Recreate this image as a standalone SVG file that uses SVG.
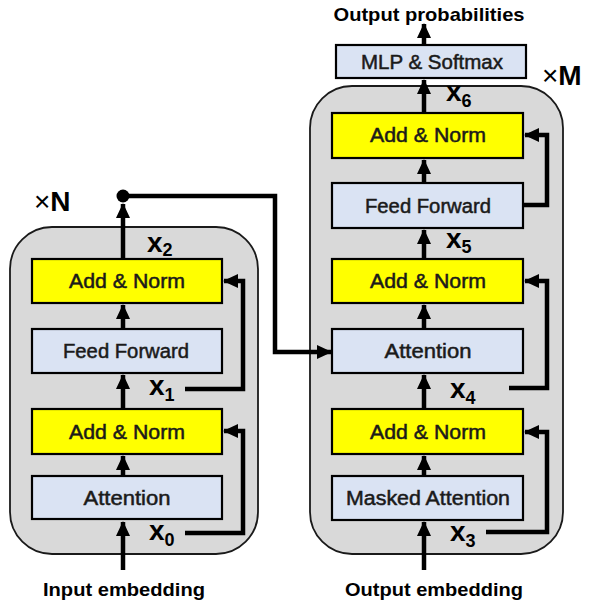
<svg xmlns="http://www.w3.org/2000/svg" width="597" height="609" viewBox="0 0 597 609">
<defs>
<style>
.cont{fill:#d9d9d9;stroke:#1a1a1a;stroke-width:1.8}
.an{fill:#ffff00;stroke:#000;stroke-width:2.2}
.bl{fill:#dae3f3;stroke:#000;stroke-width:2.2}
.t{font-family:"Liberation Sans",Arial,sans-serif;font-size:20px;fill:#1a1a1a;stroke:#1a1a1a;stroke-width:0.5;text-anchor:middle}
.lb{font-family:"Liberation Sans",Arial,sans-serif;font-size:19px;font-weight:bold;fill:#000;text-anchor:middle}
.x{font-family:"Liberation Sans",Arial,sans-serif;font-size:28px;font-weight:bold;fill:#000}
.s{font-size:18px}
.m{font-family:"Liberation Sans",Arial,sans-serif;font-size:28px;fill:#000}
.c{fill:none;stroke:#000;stroke-width:4.5}
</style>
<marker id="ah" markerUnits="userSpaceOnUse" markerWidth="16" markerHeight="16" viewBox="0 0 16 16" refX="14" refY="8" orient="auto">
<path d="M0,1 L15,8 L0,15 Z" fill="#000"/>
</marker>
</defs>
<rect width="597" height="609" fill="#fff"/>
<g id="encoder">
<rect class="cont" x="10" y="227" width="248" height="327" rx="42"/>
</g>
<g id="decoder">
<rect class="cont" x="310" y="86" width="253" height="468" rx="42"/>
</g>
<g id="connectors">
<path class="c" d="M123,570 V522" marker-end="url(#ah)"/>
<path class="c" d="M123,476 V456" marker-end="url(#ah)"/>
<path class="c" d="M123,409 V375" marker-end="url(#ah)"/>
<path class="c" d="M123,329 V305" marker-end="url(#ah)"/>
<path class="c" d="M123,259 V204" marker-end="url(#ah)"/>
<path class="c" d="M185,533 H243 V431 H224" marker-end="url(#ah)"/>
<path class="c" d="M185,389 H243 V281 H224" marker-end="url(#ah)"/>
<path class="c" d="M123,196 H275 V352 H331" marker-end="url(#ah)"/>
<circle cx="123" cy="196" r="6.5" fill="#000"/>
<path class="c" d="M424,570 V522" marker-end="url(#ah)"/>
<path class="c" d="M424,476 V456" marker-end="url(#ah)"/>
<path class="c" d="M424,409 V375" marker-end="url(#ah)"/>
<path class="c" d="M424,329 V305" marker-end="url(#ah)"/>
<path class="c" d="M424,259 V230" marker-end="url(#ah)"/>
<path class="c" d="M424,183 V160" marker-end="url(#ah)"/>
<path class="c" d="M424,113 V80" marker-end="url(#ah)"/>
<path class="c" d="M424,45 V24" marker-end="url(#ah)"/>
<path class="c" d="M486,532 H547 V432 H525" marker-end="url(#ah)"/>
<path class="c" d="M509,388 H547 V281 H525" marker-end="url(#ah)"/>
<path class="c" d="M523,205 H547 V135 H525" marker-end="url(#ah)"/>
</g>
<g id="enc-attention">
<rect class="bl" x="32" y="476" width="190" height="43"/>
<text class="t" x="127" y="505" textLength="87" lengthAdjust="spacingAndGlyphs">Attention</text>
</g>
<g id="enc-addnorm1">
<rect class="an" x="32" y="409" width="190" height="45"/>
<text class="t" x="127" y="439" textLength="116" lengthAdjust="spacingAndGlyphs">Add &amp; Norm</text>
</g>
<g id="enc-ff">
<rect class="bl" x="32" y="329" width="190" height="44"/>
<text class="t" x="126" y="358" textLength="126" lengthAdjust="spacingAndGlyphs">Feed Forward</text>
</g>
<g id="enc-addnorm2">
<rect class="an" x="32" y="259" width="190" height="44"/>
<text class="t" x="127" y="288" textLength="116" lengthAdjust="spacingAndGlyphs">Add &amp; Norm</text>
</g>
<g id="dec-masked">
<rect class="bl" x="332" y="476" width="191" height="44"/>
<text class="t" x="428" y="505" textLength="164" lengthAdjust="spacingAndGlyphs">Masked Attention</text>
</g>
<g id="dec-addnorm1">
<rect class="an" x="332" y="409" width="191" height="45"/>
<text class="t" x="428" y="439" textLength="116" lengthAdjust="spacingAndGlyphs">Add &amp; Norm</text>
</g>
<g id="dec-attention">
<rect class="bl" x="332" y="329" width="191" height="44"/>
<text class="t" x="428" y="358" textLength="87" lengthAdjust="spacingAndGlyphs">Attention</text>
</g>
<g id="dec-addnorm2">
<rect class="an" x="332" y="259" width="191" height="44"/>
<text class="t" x="428" y="288" textLength="116" lengthAdjust="spacingAndGlyphs">Add &amp; Norm</text>
</g>
<g id="dec-ff">
<rect class="bl" x="332" y="183" width="191" height="45"/>
<text class="t" x="428" y="213" textLength="126" lengthAdjust="spacingAndGlyphs">Feed Forward</text>
</g>
<g id="dec-addnorm3">
<rect class="an" x="332" y="113" width="191" height="45"/>
<text class="t" x="428" y="142" textLength="116" lengthAdjust="spacingAndGlyphs">Add &amp; Norm</text>
</g>
<g id="mlp">
<rect class="bl" x="336" y="45" width="190" height="33"/>
<text class="t" x="432" y="69" textLength="142" lengthAdjust="spacingAndGlyphs">MLP &amp; Softmax</text>
</g>
<g id="labels">
<text class="lb" x="124" y="596" textLength="162" lengthAdjust="spacingAndGlyphs">Input embedding</text>
<text class="lb" x="434" y="596" textLength="178" lengthAdjust="spacingAndGlyphs">Output embedding</text>
<text class="lb" x="429" y="21" textLength="191" lengthAdjust="spacingAndGlyphs">Output probabilities</text>
<text class="m" x="34" y="211">×<tspan font-weight="bold">N</tspan></text>
<text class="m" x="542" y="85">×<tspan font-weight="bold">M</tspan></text>
<text class="x" x="147" y="252">x<tspan class="s" dy="4">2</tspan></text>
<text class="x" x="149" y="395">x<tspan class="s" dy="6">1</tspan></text>
<text class="x" x="149" y="540">x<tspan class="s" dy="6">0</tspan></text>
<text class="x" x="446" y="101">x<tspan class="s" dy="6">6</tspan></text>
<text class="x" x="446" y="248">x<tspan class="s" dy="5">5</tspan></text>
<text class="x" x="450" y="398">x<tspan class="s" dy="6">4</tspan></text>
<text class="x" x="450" y="541">x<tspan class="s" dy="6">3</tspan></text>
</g>
</svg>
